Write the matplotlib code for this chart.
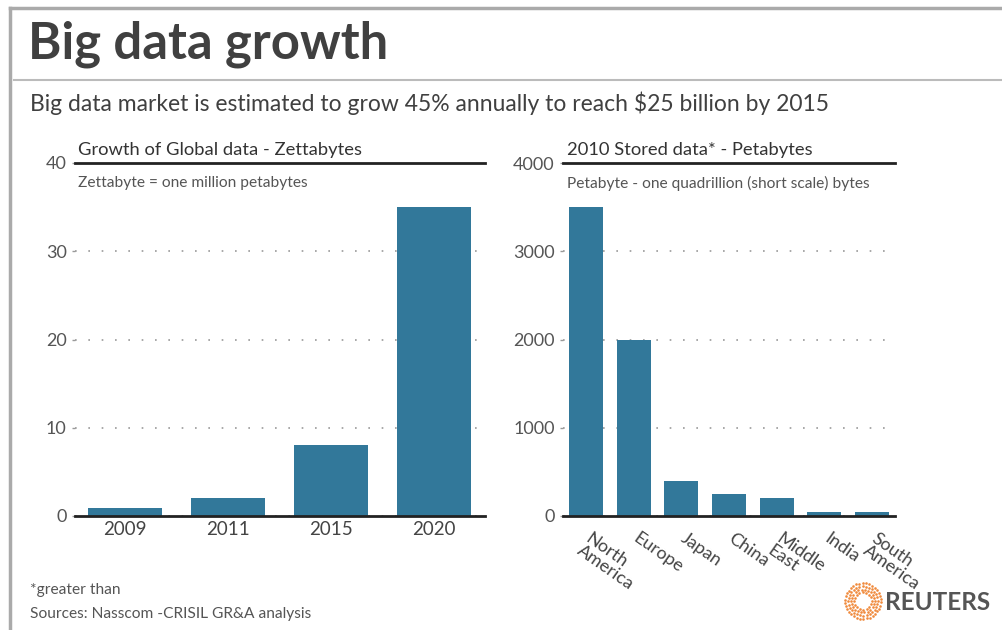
import numpy as np
from matplotlib import pyplot as plt
from matplotlib.lines import Line2D
from matplotlib.transforms import ScaledTranslation

plt.rcParams['font.family'] = ['Lato', 'DejaVu Sans']

years = ['2009', '2011', '2015', '2020']
zettabytes = [0.9, 2, 8, 35]

regions = ['North\nAmerica', 'Europe', 'Japan', 'China', 'Middle\nEast', 'India', 'South\nAmerica']
petabytes = [3500, 2000, 400, 250, 200, 50, 50]

BAR = '#32789a'
W, H = 1003, 630


def fx(px):
    return px / W


def fy(py):
    return 1 - py / H


def style_axes(ax, top):
    ax.set_ylim(0, top)
    for s in ax.spines.values():
        s.set_visible(False)
    ax.yaxis.grid(True, linestyle=(0, (1, 7)), color='#999999', lw=1.2)
    ax.set_axisbelow(True)
    ax.axhline(top, color='#222222', lw=2, clip_on=False, zorder=5)
    ax.axhline(0, color='#222222', lw=2, clip_on=False, zorder=5)
    ax.tick_params(axis='y', length=2, width=1, color='#999999', pad=4,
                   labelsize=13, labelcolor='#555555')
    ax.tick_params(axis='x', length=0, labelsize=13.5, labelcolor='#444444')


fig = plt.figure(figsize=(W / 100, H / 100), dpi=100)

# frame and separator
fig.add_artist(Line2D([fx(10), 1], [fy(8), fy(8)], color='#aaaaaa', lw=2.5))
fig.add_artist(Line2D([fx(10), fx(10)], [fy(8), 0], color='#aaaaaa', lw=2.5))
fig.add_artist(Line2D([fx(14), 1], [fy(80), fy(80)], color='#bbbbbb', lw=1.5))

fig.text(fx(28), fy(44), 'Big data growth', fontsize=36.5, fontweight='bold',
         color='#404040', va='center', ha='left')
fig.text(fx(30), fy(103), 'Big data market is estimated to grow 45% annually to reach \\$25 billion by 2015',
         fontsize=16.5, color='#404040', va='center', ha='left')

# left chart
ax1 = fig.add_axes([fx(75), fy(516), fx(410), 353 / H])
x1 = np.arange(len(years))
ax1.bar(x1, zettabytes, width=0.72, color=BAR, zorder=3)
ax1.set_xlim(-0.49, 3.5)
style_axes(ax1, 40)
ax1.set_yticks([0, 10, 20, 30, 40])
ax1.set_xticks(x1)
ax1.set_xticklabels(years)
fig.text(fx(78), fy(150), 'Growth of Global data - Zettabytes', fontsize=13.2,
         color='#333333', va='center')
fig.text(fx(78), fy(183), 'Zettabyte = one million petabytes', fontsize=11.2,
         color='#555555', va='center')

# right chart
ax2 = fig.add_axes([fx(563), fy(516), fx(332), 353 / H])
x2 = np.arange(len(regions))
ax2.bar(x2, petabytes, width=0.71, color=BAR, zorder=3)
ax2.set_xlim(-0.48, 6.48)
style_axes(ax2, 4000)
ax2.set_yticks([0, 1000, 2000, 3000, 4000])
ax2.set_xticks(x2)
ax2.set_xticklabels(regions, rotation=-35, ha='left', va='top',
                    rotation_mode='anchor', linespacing=0.95)
ax2.tick_params(axis='x', pad=10, labelsize=13)
shift = ScaledTranslation(6 / 100, 0, fig.dpi_scale_trans)
for lbl in ax2.get_xticklabels():
    lbl.set_transform(lbl.get_transform() + shift)
fig.text(fx(567), fy(150), '2010 Stored data* - Petabytes', fontsize=13.2,
         color='#333333', va='center')
fig.text(fx(567), fy(183), 'Petabyte - one quadrillion (short scale) bytes', fontsize=11.2,
         color='#555555', va='center')

# footer
fig.text(fx(30), fy(590), '*greater than', fontsize=11.2, color='#555555', va='center')
fig.text(fx(30), fy(614), 'Sources: Nasscom -CRISIL GR&A analysis', fontsize=11.2,
         color='#555555', va='center')

# logo
lax = fig.add_axes([fx(842), fy(622), fx(42), 42 / H])
lax.set_xlim(-1, 1)
lax.set_ylim(-1, 1)
lax.set_aspect('equal')
lax.axis('off')
for r, n in [(0.85, 34), (0.7, 28), (0.55, 22), (0.42, 16)]:
    t = np.linspace(0, 2 * np.pi, n, endpoint=False) + r
    lax.scatter(r * np.cos(t), r * np.sin(t), s=3.5, color='#f08a3c', lw=0)
fig.text(fx(885), fy(602), 'REUTERS', fontsize=17.5, fontweight='bold',
         color='#555555', va='center')

fig.savefig('out.png', dpi=100)
